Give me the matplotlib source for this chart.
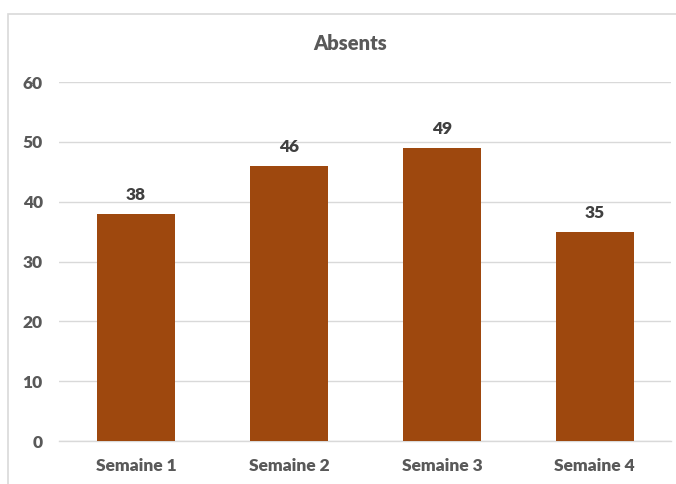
import matplotlib.pyplot as plt
from matplotlib.patches import Rectangle

# data
weeks = ["Semaine 1", "Semaine 2", "Semaine 3", "Semaine 4"]
absents = [38, 46, 49, 35]
yticks = [0, 10, 20, 30, 40, 50, 60]

plt.rcParams['font.family'] = ['Lato', 'DejaVu Sans']

fig = plt.figure(figsize=(6.76, 4.84), dpi=100, facecolor="white")

# chart frame (right and bottom edges are cut off in the picture)
fig.patches.append(Rectangle((8 / 676, -0.1), 1.1, 1 - 14 / 484 + 0.1,
                             transform=fig.transFigure, fill=False,
                             edgecolor="#d9d9d9", linewidth=1.2))

ax = fig.add_axes([0.088, 0.0888, 0.905, 0.7417])
x = range(len(weeks))
bars = ax.bar(x, absents, width=0.51, color="#9e480e", zorder=3)

ax.set_xlim(-0.5, len(weeks) - 0.5)
ax.set_ylim(0, 60)
ax.set_yticks(yticks)
ax.set_xticks(list(x))
ax.set_xticklabels(weeks)
ax.grid(axis="y", color="#d9d9d9", linewidth=1.0, zorder=0)
for s in ["top", "right", "left"]:
    ax.spines[s].set_visible(False)
ax.spines["bottom"].set_color("#d9d9d9")
ax.spines["bottom"].set_linewidth(1.0)
ax.tick_params(length=0, colors="#595959", labelsize=12.5)
ax.tick_params(axis="x", pad=12)
ax.tick_params(axis="y", pad=12)
for lbl in ax.get_xticklabels() + ax.get_yticklabels():
    lbl.set_fontweight("heavy")

for b, v in zip(bars, absents):
    ax.annotate(str(v), (b.get_x() + b.get_width() / 2, v), xytext=(0, 8),
                textcoords="offset points", ha="center", va="bottom",
                fontsize=12.5, fontweight="heavy", color="#404040")

fig.text(0.518, 1 - 44 / 484, "Absents", ha="center", va="center",
         fontsize=14.5, fontweight="heavy", color="#595959")

fig.savefig("out.png", dpi=100)
